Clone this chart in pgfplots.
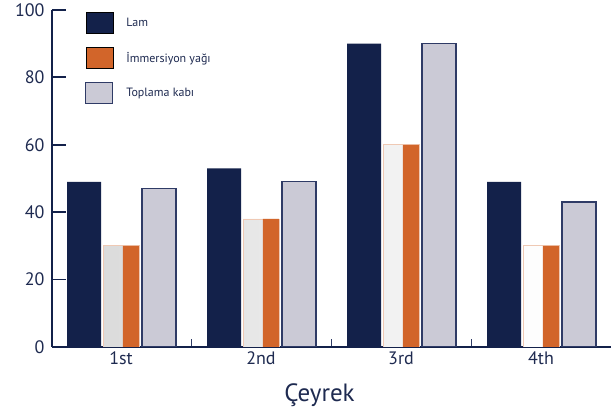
\documentclass[border=0pt]{standalone}
\usepackage{pgfplots}
\pgfplotsset{compat=1.18}
\usepackage{fontspec}
\setmainfont{PT Sans}
\definecolor{navy}{HTML}{13214A}
\definecolor{orng}{HTML}{D2652A}
\definecolor{lgray}{HTML}{CBCAD6}
\definecolor{edge}{HTML}{2F3B66}
\definecolor{txt}{HTML}{1E2A50}
\begin{document}
\begin{tikzpicture}
\begin{axis}[
  scale only axis, width=559pt, height=337pt,
  xmin=-0.493, xmax=3.5, ymin=0, ymax=100,
  /pgf/number format/assume math mode=true,
  axis x line*=bottom, axis y line*=left,
  axis line style={draw=navy, line width=1.8pt, -},
  ytick={0,20,...,100},
  xtick={0,1,2,3},
  xticklabels={1st,2nd,3rd,4th},
  minor xtick={0.5,1.5,2.5},
  tick align=inside,
  major tick length=14pt,
  minor tick length=8pt,
  y tick style={draw=navy, line width=1.8pt},
  x tick style={draw=none},
  minor x tick style={draw=edge, line width=1pt},
  yticklabel style={font=\fontsize{18}{21}\selectfont, text=txt, xshift=-4pt},
  xticklabel style={font=\fontsize{18}{21}\selectfont, text=txt, yshift=-1pt},
  xlabel={Çeyrek},
  xlabel style={font=\fontsize{25}{30}\selectfont, text=txt, xshift=-12pt, yshift=-12pt},
  legend cell align=left,
  legend image code/.code={\draw[#1] (0pt,-10.5pt) rectangle (27pt,10.5pt);},
  legend style={at={(rel axis cs:0,1)}, anchor=north west, xshift=33pt, yshift=-2pt,
    draw=none, fill=none, inner sep=0pt, row sep=13.5pt, column sep=13pt,
    font=\fontsize{12}{14}\selectfont, text=txt, nodes={inner sep=0pt}},
]
\addplot[ybar, bar width=0.243, bar shift=-0.264, fill=navy, draw=none]
  coordinates {(0,49) (1,53) (2,90) (3,49)};
\addlegendentry{Lam}
\addplot[ybar, bar width=0.257, bar shift=0, left color=black!14, right color=white, draw=orng!35, line width=0.8pt, forget plot]
  coordinates {(0,30) (1,38) (2,60) (3,30)};
\addplot[ybar, bar width=0.114, bar shift=0.071, fill=orng, draw=none]
  coordinates {(0,30) (1,38) (2,60) (3,30)};
\addlegendentry{İmmersiyon yağı}
\addplot[ybar, bar width=0.243, bar shift=0.271, fill=lgray, draw=edge, line width=1.2pt]
  coordinates {(0,47) (1,49) (2,90) (3,43)};
\addlegendentry{Toplama kabı}
\end{axis}
\pgfresetboundingbox
\path[use as bounding box] (-52pt,-68pt) rectangle (559pt,347pt);
\end{tikzpicture}
\end{document}
